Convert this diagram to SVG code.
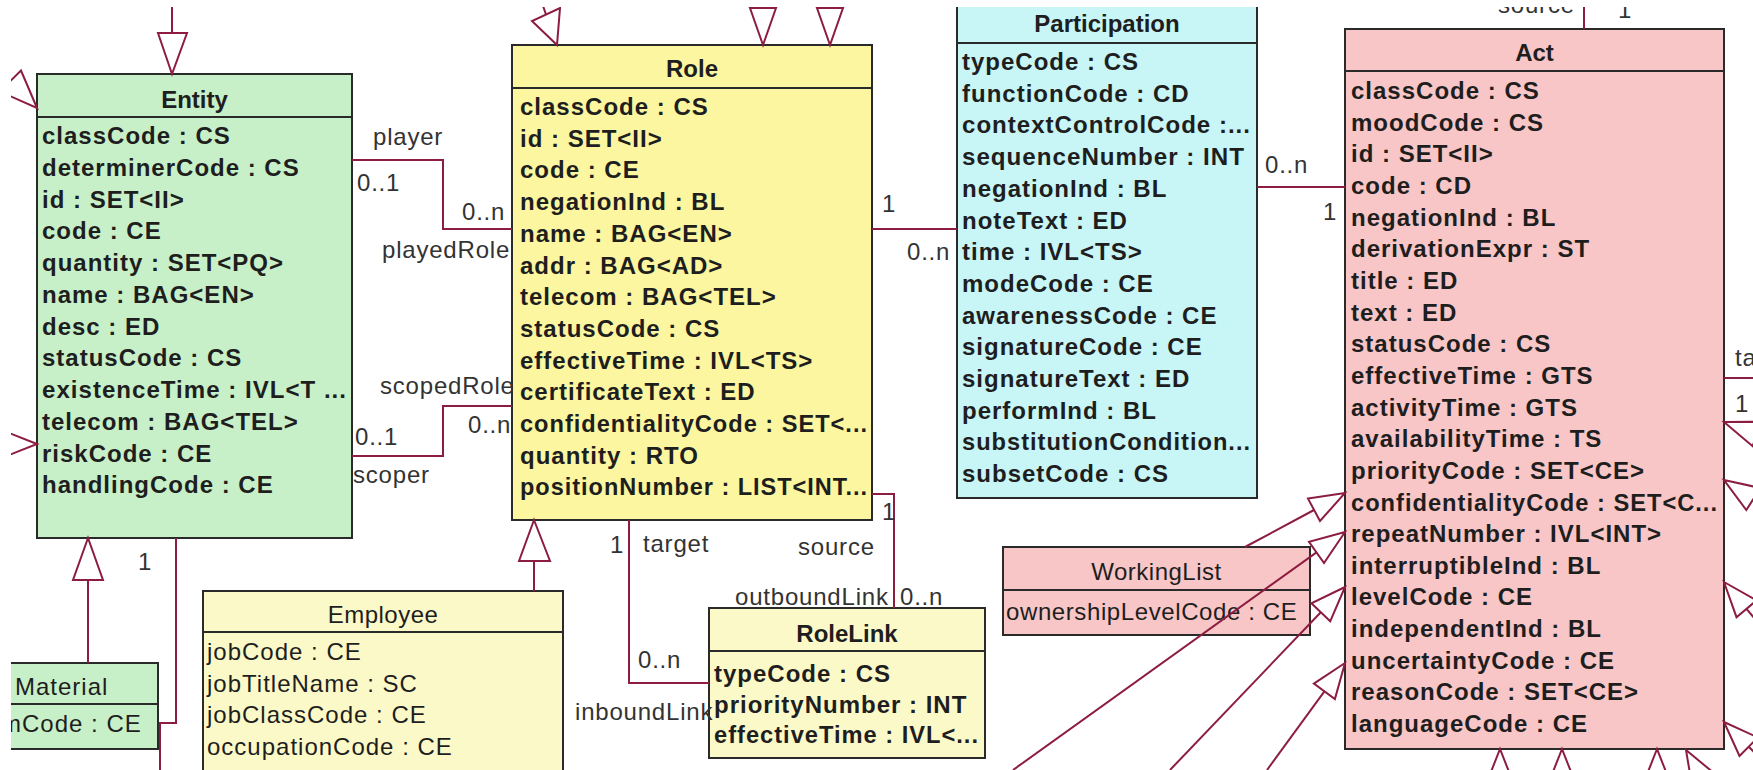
<svg xmlns="http://www.w3.org/2000/svg" width="1753" height="770" viewBox="0 0 1753 770">
<defs>
<clipPath id="frame"><rect x="11" y="7" width="1742" height="763"/></clipPath>
<style>
.box{stroke:#2a2a2a;stroke-width:2}
.sep{stroke:#2a2a2a;stroke-width:2}
.ent{fill:#c8f0c8}
.role{fill:#fbf69f}
.part{fill:#c8f5f6}
.act{fill:#f8c6c6}
.pale{fill:#fcf9c8}
text{font-family:"Liberation Sans",Arial,sans-serif;font-size:24px;fill:#1e1e1e}
.t{font-weight:bold;text-anchor:middle}
.tn{text-anchor:middle;letter-spacing:0.5px}
.a{font-weight:bold;letter-spacing:1px}
.an{letter-spacing:1px}
.lbl{fill:#333;letter-spacing:0.8px}
.cn{stroke:#8c1d40;stroke-width:2;fill:none}
</style>
</defs>
<rect width="1753" height="770" fill="#ffffff"/>
<g clip-path="url(#frame)">

<g id="entity">
<rect class="box ent" x="37" y="74" width="315" height="464"/>
<line class="sep" x1="37" y1="117" x2="352" y2="117"/>
<text class="t" x="194.5" y="108">Entity</text>
<text class="a" x="42" y="144">classCode : CS</text>
<text class="a" x="42" y="175.8">determinerCode : CS</text>
<text class="a" x="42" y="207.5">id : SET&lt;II&gt;</text>
<text class="a" x="42" y="239.3">code : CE</text>
<text class="a" x="42" y="271">quantity : SET&lt;PQ&gt;</text>
<text class="a" x="42" y="302.8">name : BAG&lt;EN&gt;</text>
<text class="a" x="42" y="334.5">desc : ED</text>
<text class="a" x="42" y="366.3">statusCode : CS</text>
<text class="a" x="42" y="398" textLength="305" lengthAdjust="spacingAndGlyphs">existenceTime : IVL&lt;T ...</text>
<text class="a" x="42" y="429.8">telecom : BAG&lt;TEL&gt;</text>
<text class="a" x="42" y="461.5">riskCode : CE</text>
<text class="a" x="42" y="493.3">handlingCode : CE</text>
</g>

<g id="role">
<rect class="box role" x="512" y="45" width="360" height="475"/>
<line class="sep" x1="512" y1="88" x2="872" y2="88"/>
<text class="t" x="692" y="77">Role</text>
<text class="a" x="520" y="115">classCode : CS</text>
<text class="a" x="520" y="146.7">id : SET&lt;II&gt;</text>
<text class="a" x="520" y="178.4">code : CE</text>
<text class="a" x="520" y="210.1">negationInd : BL</text>
<text class="a" x="520" y="241.8">name : BAG&lt;EN&gt;</text>
<text class="a" x="520" y="273.5">addr : BAG&lt;AD&gt;</text>
<text class="a" x="520" y="305.2">telecom : BAG&lt;TEL&gt;</text>
<text class="a" x="520" y="336.9">statusCode : CS</text>
<text class="a" x="520" y="368.6">effectiveTime : IVL&lt;TS&gt;</text>
<text class="a" x="520" y="400.3">certificateText : ED</text>
<text class="a" x="520" y="432" textLength="348" lengthAdjust="spacingAndGlyphs">confidentialityCode : SET&lt;...</text>
<text class="a" x="520" y="463.7">quantity : RTO</text>
<text class="a" x="520" y="495.4" textLength="348" lengthAdjust="spacingAndGlyphs">positionNumber : LIST&lt;INT...</text>
</g>

<g id="participation">
<rect class="box part" x="957" y="-10" width="300" height="508"/>
<line class="sep" x1="957" y1="43" x2="1257" y2="43"/>
<text class="t" x="1107" y="32">Participation</text>
<text class="a" x="962" y="70">typeCode : CS</text>
<text class="a" x="962" y="101.7">functionCode : CD</text>
<text class="a" x="962" y="133.4" textLength="289" lengthAdjust="spacingAndGlyphs">contextControlCode :...</text>
<text class="a" x="962" y="165.1" textLength="283" lengthAdjust="spacingAndGlyphs">sequenceNumber : INT</text>
<text class="a" x="962" y="196.8">negationInd : BL</text>
<text class="a" x="962" y="228.5">noteText : ED</text>
<text class="a" x="962" y="260.2">time : IVL&lt;TS&gt;</text>
<text class="a" x="962" y="291.9">modeCode : CE</text>
<text class="a" x="962" y="323.6">awarenessCode : CE</text>
<text class="a" x="962" y="355.3">signatureCode : CE</text>
<text class="a" x="962" y="387">signatureText : ED</text>
<text class="a" x="962" y="418.7">performInd : BL</text>
<text class="a" x="962" y="450.4" textLength="289" lengthAdjust="spacingAndGlyphs">substitutionCondition...</text>
<text class="a" x="962" y="482.1">subsetCode : CS</text>
</g>

<g id="act">
<rect class="box act" x="1345" y="29" width="379" height="720"/>
<line class="sep" x1="1345" y1="71" x2="1724" y2="71"/>
<text class="t" x="1534.5" y="61">Act</text>
<text class="a" x="1351" y="99">classCode : CS</text>
<text class="a" x="1351" y="130.7">moodCode : CS</text>
<text class="a" x="1351" y="162.3">id : SET&lt;II&gt;</text>
<text class="a" x="1351" y="194">code : CD</text>
<text class="a" x="1351" y="225.6">negationInd : BL</text>
<text class="a" x="1351" y="257.3">derivationExpr : ST</text>
<text class="a" x="1351" y="288.9">title : ED</text>
<text class="a" x="1351" y="320.6">text : ED</text>
<text class="a" x="1351" y="352.2">statusCode : CS</text>
<text class="a" x="1351" y="383.9">effectiveTime : GTS</text>
<text class="a" x="1351" y="415.5">activityTime : GTS</text>
<text class="a" x="1351" y="447.2">availabilityTime : TS</text>
<text class="a" x="1351" y="478.8">priorityCode : SET&lt;CE&gt;</text>
<text class="a" x="1351" y="510.5" textLength="367" lengthAdjust="spacingAndGlyphs">confidentialityCode : SET&lt;C...</text>
<text class="a" x="1351" y="542.1">repeatNumber : IVL&lt;INT&gt;</text>
<text class="a" x="1351" y="573.8">interruptibleInd : BL</text>
<text class="a" x="1351" y="605.4">levelCode : CE</text>
<text class="a" x="1351" y="637.1">independentInd : BL</text>
<text class="a" x="1351" y="668.7">uncertaintyCode : CE</text>
<text class="a" x="1351" y="700.4">reasonCode : SET&lt;CE&gt;</text>
<text class="a" x="1351" y="732">languageCode : CE</text>
</g>

<g id="employee">
<rect class="box pale" x="203" y="591" width="360" height="200"/>
<line class="sep" x1="203" y1="632" x2="563" y2="632"/>
<text class="tn" x="383" y="623">Employee</text>
<text class="an" x="207" y="660">jobCode : CE</text>
<text class="an" x="207" y="691.7">jobTitleName : SC</text>
<text class="an" x="207" y="723.4">jobClassCode : CE</text>
<text class="an" x="207" y="755.1">occupationCode : CE</text>
</g>

<g id="rolelink">
<rect class="box pale" x="709" y="608" width="276" height="150"/>
<line class="sep" x1="709" y1="651" x2="985" y2="651"/>
<text class="t" x="847" y="642">RoleLink</text>
<text class="a" x="714" y="682">typeCode : CS</text>
<text class="a" x="714" y="713">priorityNumber : INT</text>
<text class="a" x="714" y="743" textLength="265" lengthAdjust="spacingAndGlyphs">effectiveTime : IVL&lt;...</text>
</g>

<g id="workinglist">
<rect class="box act" x="1003" y="547" width="307" height="88"/>
<line class="sep" x1="1003" y1="590" x2="1310" y2="590"/>
<text class="tn" x="1156.5" y="580">WorkingList</text>
<text class="an" x="1006" y="620" style="letter-spacing:0.6px">ownershipLevelCode : CE</text>
</g>

<g id="material">
<rect class="box ent" x="-34" y="663" width="192" height="86"/>
<line class="sep" x1="-34" y1="704" x2="158" y2="704"/>
<text class="an" x="15" y="695">Material</text>
<text class="an" x="-30" y="732">formCode : CE</text>
</g>

<g id="connectors">
<polyline class="cn" points="352,160 443,160 443,229 512,229"/>
<polyline class="cn" points="352,456 443,456 443,406 512,406"/>
<line class="cn" x1="872" y1="229" x2="957" y2="229"/>
<line class="cn" x1="1257" y1="187" x2="1345" y2="187"/>
<polyline class="cn" points="629,520 629,683 709,683"/>
<polyline class="cn" points="872,494 894,494 894,608"/>
<polyline class="cn" points="176,538 176,723 160,723 160,770"/>
<polygon class="cn" points="88,538 73,580 103,580"/>
<line class="cn" x1="88" y1="580" x2="88" y2="663"/>
<polygon class="cn" points="534,520 519,561 550,561"/>
<line class="cn" x1="534" y1="561" x2="534" y2="591"/>
<line class="cn" x1="172" y1="0" x2="172" y2="33"/>
<polygon class="cn" points="172,74 158,33 187,33"/>
<polygon class="cn" points="37,108 21,70.5 -0.3,91.5"/>
<polygon class="cn" points="37,444 -1,429 -1,459"/>
<polygon class="cn" points="557,45 532,21 560,8"/>
<line class="cn" x1="546" y1="14.5" x2="541" y2="0"/>
<polygon class="cn" points="763,45 750,8 776,8"/>
<line class="cn" x1="763" y1="8" x2="763" y2="0"/>
<polygon class="cn" points="830,45 817,8 843,8"/>
<line class="cn" x1="830" y1="8" x2="830" y2="0"/>
<line class="cn" x1="1584" y1="0" x2="1584" y2="29"/>
<line class="cn" x1="1724" y1="378" x2="1760" y2="378"/>
<polygon class="cn" points="1724,422 1761.4,421.8 1752.6,446.2"/>
<polygon class="cn" points="1724,480 1760.5,488 1746.3,510"/>
<line class="cn" x1="1753.4" y1="499" x2="1780" y2="516"/>
<polygon class="cn" points="1724,582 1756.5,600.4 1736.5,617.2"/>
<line class="cn" x1="1746.5" y1="608.8" x2="1770" y2="637"/>
<polygon class="cn" points="1724,722 1757.9,737.5 1739.5,755.9"/>
<line class="cn" x1="1748.7" y1="746.7" x2="1775" y2="773"/>
<polygon class="cn" points="1345,493 1308,498.6 1320,521"/>
<line class="cn" x1="1314" y1="510" x2="1245" y2="547"/>
<polygon class="cn" points="1345,532 1309,541.8 1324,563"/>
<line class="cn" x1="1316.5" y1="552.4" x2="1013" y2="770"/>
<polygon class="cn" points="1345,587 1311.4,603.3 1330.2,621.3"/>
<line class="cn" x1="1320.8" y1="612.3" x2="1170" y2="770"/>
<polygon class="cn" points="1345,663 1313.9,683.6 1334.9,699"/>
<line class="cn" x1="1324.4" y1="691.3" x2="1267" y2="770"/>
<polygon class="cn" points="1500,749 1485,787 1515,787"/>
<polygon class="cn" points="1562,749 1547,787 1577,787"/>
<polygon class="cn" points="1657,749 1642,787 1672,787"/>
<polygon class="cn" points="1686,750 1714.8,773.8 1692.2,786.8"/>
</g>

<g id="labels">
<text class="lbl" x="373" y="145">player</text>
<text class="lbl" x="357" y="191">0..1</text>
<text class="lbl" x="462" y="220">0..n</text>
<text class="lbl" x="382" y="258">playedRole</text>
<text class="lbl" x="380" y="394">scopedRole</text>
<text class="lbl" x="468" y="433">0..n</text>
<text class="lbl" x="355" y="445">0..1</text>
<text class="lbl" x="353" y="483">scoper</text>
<text class="lbl" x="882" y="212">1</text>
<text class="lbl" x="907" y="260">0..n</text>
<text class="lbl" x="1265" y="173">0..n</text>
<text class="lbl" x="1323" y="220">1</text>
<text class="lbl" x="610" y="553">1</text>
<text class="lbl" x="643" y="552">target</text>
<text class="lbl" x="638" y="668">0..n</text>
<text class="lbl" x="575" y="720">inboundLink</text>
<text class="lbl" x="882" y="520">1</text>
<text class="lbl" x="798" y="555">source</text>
<text class="lbl" x="735" y="605">outboundLink</text>
<text class="lbl" x="900" y="605">0..n</text>
<text class="lbl" x="138" y="570">1</text>
<text class="lbl" x="1498" y="13">source</text>
<text class="lbl" x="1618" y="18">1</text>
<text class="lbl" x="1735" y="366">ta</text>
<text class="lbl" x="1735" y="412">1</text>
</g>
</g>
</svg>
